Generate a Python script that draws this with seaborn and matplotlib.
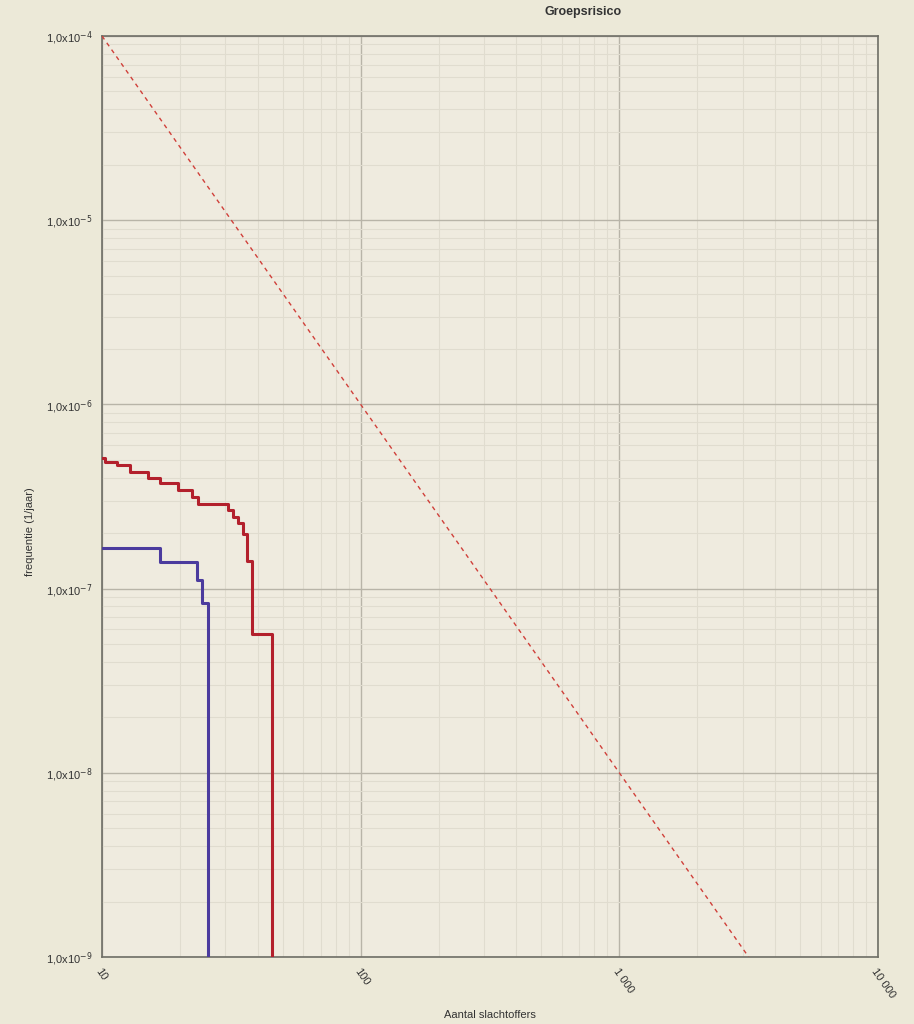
import numpy as np
import pandas as pd
import seaborn as sns
import matplotlib.pyplot as plt
from matplotlib.ticker import FixedLocator, LogLocator, NullFormatter

# FN curve, scenario 1 (red)
red_n = [10, 10.27, 11.4, 12.8, 15.1, 16.7, 19.7, 22.2, 23.6, 30.8, 32.2, 33.7, 35.2, 36.3, 37.9, 45.4]
red_f = [5.1e-7, 4.89e-7, 4.69e-7, 4.31e-7, 3.97e-7, 3.73e-7, 3.43e-7, 3.15e-7, 2.87e-7,
         2.67e-7, 2.46e-7, 2.26e-7, 1.98e-7, 1.41e-7, 5.7e-8, 1e-10]

# FN curve, scenario 2 (blue)
blue_n = [10, 16.7, 23.2, 24.3, 25.8]
blue_f = [1.67e-7, 1.40e-7, 1.11e-7, 8.4e-8, 1e-10]

# orientatiewaarde (dashed)
norm_n = [10, 3162]
norm_f = [1e-4, 1e-9]

x_ticks = [10, 100, 1000, 10000]
x_labels = ['10', '100', '1 000', '10 000']
y_ticks = [1e-9, 1e-8, 1e-7, 1e-6, 1e-5, 1e-4]
y_labels = [r'1,0x10$^{-9}$', r'1,0x10$^{-8}$', r'1,0x10$^{-7}$',
            r'1,0x10$^{-6}$', r'1,0x10$^{-5}$', r'1,0x10$^{-4}$']

BG = '#ECE9D8'
sns.set_theme(style='whitegrid', rc={'axes.facecolor': '#EFEBDF', 'figure.facecolor': BG,
                                     'axes.edgecolor': '#6e6e66', 'axes.linewidth': 1.2})
plt.rcParams['font.family'] = ['Liberation Sans', 'DejaVu Sans']

fig = plt.figure(figsize=(9.14, 10.24), dpi=100)
ax = fig.add_axes([102 / 914, 1 - 957 / 1024, (878 - 102) / 914, (957 - 36) / 1024])

df_red = pd.DataFrame({'N': red_n, 'F': red_f})
df_blue = pd.DataFrame({'N': blue_n, 'F': blue_f})
df_norm = pd.DataFrame({'N': norm_n, 'F': norm_f})

sns.lineplot(data=df_norm, x='N', y='F', ax=ax, color='#d0403a', lw=1.0,
             linestyle=(0, (3, 3)), zorder=3)
sns.lineplot(data=df_red, x='N', y='F', ax=ax, color='#b3202c', lw=2.2,
             drawstyle='steps-post', zorder=4)
sns.lineplot(data=df_blue, x='N', y='F', ax=ax, color='#4b3b9e', lw=2.2,
             drawstyle='steps-post', zorder=4)

ax.set_xscale('log')
ax.set_yscale('log')
ax.set_xlim(10, 10000)
ax.set_ylim(1e-9, 1e-4)

ax.xaxis.set_major_locator(FixedLocator(x_ticks))
ax.set_xticklabels(x_labels, rotation=-55, ha='left', va='top', rotation_mode='anchor', fontsize=8)
ax.yaxis.set_major_locator(FixedLocator(y_ticks))
ax.set_yticklabels(y_labels, fontsize=8)
ax.xaxis.set_minor_locator(LogLocator(base=10, subs=np.arange(2, 10)))
ax.yaxis.set_minor_locator(LogLocator(base=10, subs=np.arange(2, 10)))
ax.xaxis.set_minor_formatter(NullFormatter())
ax.yaxis.set_minor_formatter(NullFormatter())

ax.grid(which='major', color='#b8b4a8', lw=1.0)
ax.grid(which='minor', color='#e0dccf', lw=0.8)
ax.tick_params(axis='both', which='major', length=4, color='#999990', pad=3, colors='#333333')
ax.tick_params(axis='both', which='minor', length=0)
for s in ax.spines.values():
    s.set_visible(True)
    s.set_color('#6e6e66')

ax.set_xlabel('')
ax.set_ylabel('')
fig.text(583 / 914, 1 - 12 / 1024, 'Groepsrisico', ha='center', va='center',
         fontsize=9, fontweight='bold', color='#333333')
fig.text(490 / 914, 1 - 1015 / 1024, 'Aantal slachtoffers', ha='center', va='center',
         fontsize=8, color='#333333')
fig.text(30 / 914, 1 - 532 / 1024, 'frequentie (1/jaar)', ha='center', va='center',
         rotation=90, fontsize=8, color='#333333')

fig.savefig('out.png', dpi=100, facecolor=BG)
